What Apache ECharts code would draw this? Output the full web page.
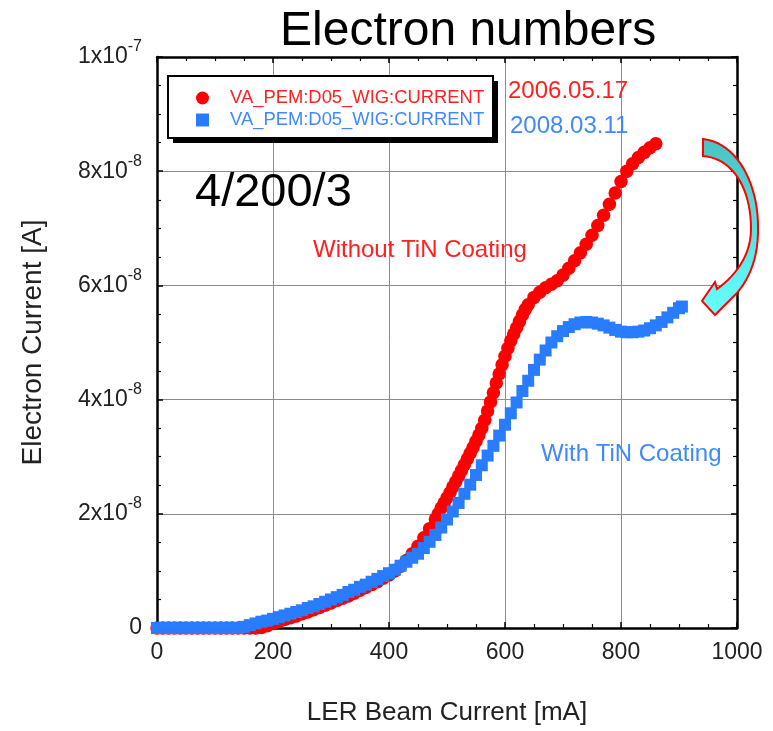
<!DOCTYPE html>
<html>
<head>
<meta charset="utf-8">
<script src="https://cdn.jsdelivr.net/npm/echarts@6/dist/echarts.min.js"></script>
<style>
  html, body { margin: 0; padding: 0; background: #ffffff; }
  #chart { width: 773px; height: 731px; }
</style>
</head>
<body>
<div id="chart"></div>
<script>
// LER beam current [mA] vs. electron current (values in units of 1e-9 A)
const redName = '2006.05.17';
const blueName = '2008.03.11';
const legendLabel = 'VA_PEM:D05_WIG:CURRENT';

// Without TiN coating (2006.05.17)
const redX = [0,10,20,30,40,50,60,70,80,90,100,110,120,130,140,150,160,170,180,190,
  200,210,220,230,240,250,260,270,280,290,300,310,320,330,340,350,360,370,380,390,
  400,410,420,430,440,450,460,470,480,485,490,495,500,505,510,515,520,525,530,535,
  540,545,550,555,560,565,570,575,580,585,590,595,600,605,610,615,620,625,630,635,
  640,650,660,670,680,690,700,710,720,730,740,750,760,770,780,790,800,810,820,830,
  840,850,860];
const redY = [0,0,0,0,0,0,0,0,0,0,0,0,0,0,0,0,0,0,0.1,0.4,
  0.8,1.1,1.5,1.8,2.1,2.5,2.8,3.2,3.6,4.0,4.4,4.8,5.2,5.6,6.1,6.6,7.1,7.6,8.1,8.7,
  9.3,10.0,10.8,11.8,13.0,14.3,15.8,17.4,19.1,20.0,21.0,21.9,22.8,23.7,24.7,25.6,26.6,27.6,28.6,29.6,
  30.6,31.6,32.7,33.8,35.0,36.4,38.0,39.6,41.2,42.9,44.5,46.1,47.6,49.0,50.3,51.5,52.6,53.7,54.8,55.8,
  56.6,57.9,58.8,59.6,60.2,60.8,61.8,63.0,64.3,65.7,67.2,68.8,70.5,72.3,74.2,76.2,78.2,80.0,81.3,82.4,
  83.3,84.1,84.8];

// With TiN coating (2008.03.11)
const blueX = [0,10,20,30,40,50,60,70,80,90,100,110,120,130,140,150,160,170,180,190,
  200,210,220,230,240,250,260,270,280,290,300,310,320,330,340,350,360,370,380,390,
  400,410,420,430,440,450,460,470,480,490,500,510,520,530,540,550,560,570,580,590,
  600,610,620,630,640,650,660,670,680,690,700,710,720,730,740,750,760,770,780,790,
  800,810,820,830,840,850,860,870,880,890,900,905];
const blueY = [0,0,0,0,0,0,0,0,0,0,0,0,0,0,0,0.2,0.5,0.8,1.1,1.3,
  1.6,1.9,2.2,2.5,2.8,3.1,3.5,3.8,4.2,4.6,5.0,5.4,5.8,6.3,6.7,7.2,7.6,8.1,8.6,9.1,
  9.6,10.2,10.9,11.6,12.3,13.0,14.0,15.1,16.3,17.6,19.0,20.4,21.9,23.5,25.1,26.8,28.5,30.2,31.9,33.7,
  35.6,37.6,39.5,41.5,43.3,45.2,47.0,48.6,50.0,51.1,52.0,52.7,53.2,53.5,53.6,53.5,53.3,53.0,52.6,52.2,
  51.9,51.8,51.8,51.9,52.1,52.5,53.0,53.6,54.4,55.2,56.0,56.3];

// tick labels
const xTickValues = [0, 200, 400, 600, 800, 1000];
const xTickText = ['0', '200', '400', '600', '800', '1000'];
const yTickValues = [0, 20, 40, 60, 80, 100];
const yTickBase = ['0', '2x10', '4x10', '6x10', '8x10', '1x10'];
const yTickExp = ['', '-8', '-8', '-8', '-8', '-7'];

const RED = '#ff0000';
const BLUE = '#2a7cff';
const INK = '#222222';
const FONT = '"Liberation Sans", Arial, sans-serif';

function pairs(xs, ys) { return xs.map((x, i) => [x, ys[i]]); }

function xLabel(v) {
  const i = xTickValues.indexOf(Math.round(v));
  return i < 0 ? '' : xTickText[i];
}
function yLabel(v) {
  const i = yTickValues.indexOf(Math.round(v));
  if (i < 0) return '';
  return yTickExp[i] ? '{b|' + yTickBase[i] + '}{s|' + yTickExp[i] + '}' : '{b|' + yTickBase[i] + '}';
}

// curved block arrow, sampled from cubic segments
function cubic(p0, p1, p2, p3, n) {
  const out = [];
  for (let i = 0; i <= n; i++) {
    const t = i / n, u = 1 - t;
    out.push([
      u*u*u*p0[0] + 3*u*u*t*p1[0] + 3*u*t*t*p2[0] + t*t*t*p3[0],
      u*u*u*p0[1] + 3*u*u*t*p1[1] + 3*u*t*t*p2[1] + t*t*t*p3[1]
    ]);
  }
  return out;
}
const arrowPts = [].concat(
  cubic([703,139], [738,143], [758,185], [758,226], 20),
  cubic([758,226], [759,262], [746,285], [732,298], 14),
  [[715,315], [702,301], [715,282], [717,289]],
  cubic([717,289], [735,276], [751,256], [751,229], 14),
  cubic([751,229], [751,186], [731,158], [703,156], 20)
);

const axisCommon = {
  type: 'value',
  axisLine: { show: true, onZero: false, lineStyle: { color: '#000', width: 2.5 } },
  axisTick: { show: true, inside: true, length: 6, lineStyle: { color: '#000', width: 1.5 } },
  minorTick: { show: true, splitNumber: 4, length: 4, lineStyle: { color: '#000', width: 1.2 } },
};

const chart = echarts.init(document.getElementById('chart'), null, { renderer: 'canvas' });
chart.setOption({
  animation: false,
  backgroundColor: '#ffffff',
  textStyle: { fontFamily: FONT },
  title: {
    text: 'Electron numbers',
    left: 280, top: 8, padding: 0,
    textStyle: { fontFamily: FONT, fontSize: 48, fontWeight: 'normal', color: '#000' }
  },
  grid: { left: 157, right: 36, top: 57, bottom: 100 },
  legend: {
    orient: 'vertical',
    left: 168, top: 76,
    padding: [13, 9, 9, 28],
    itemWidth: 13, itemHeight: 13,
    itemGap: 4,
    z: 6,
    selectedMode: false,
    backgroundColor: 'transparent',
    borderWidth: 0,
    formatter: () => legendLabel,
    textStyle: { fontFamily: FONT, fontSize: 18.4, lineHeight: 18, padding: [0, 0, 0, 16] },
    data: [
      { name: redName, icon: 'circle', textStyle: { color: '#ff2020' } },
      { name: blueName, icon: 'rect', textStyle: { color: '#3f88ff' } }
    ]
  },
  xAxis: [
    Object.assign({}, axisCommon, {
      position: 'bottom', min: 0, max: 1000, interval: 200,
      name: 'LER Beam Current [mA]', nameLocation: 'middle', nameGap: 72,
      nameTextStyle: { fontFamily: FONT, fontSize: 26, color: INK },
      axisLabel: { margin: 13, fontFamily: FONT, fontSize: 23, color: INK, formatter: xLabel },
      splitLine: { show: true, lineStyle: { color: '#8c8c8c', width: 1 } }
    }),
    Object.assign({}, axisCommon, {
      position: 'top', min: 0, max: 1000, interval: 200,
      axisLabel: { show: false }, splitLine: { show: false }
    })
  ],
  yAxis: [
    Object.assign({}, axisCommon, {
      position: 'left', min: 0, max: 100, interval: 20,
      name: 'Electron Current [A]', nameLocation: 'middle', nameGap: 110,
      nameTextStyle: { fontFamily: FONT, fontSize: 28, color: INK },
      axisLabel: {
        margin: 15, color: INK, fontFamily: FONT,
        formatter: yLabel,
        rich: {
          b: { fontFamily: FONT, fontSize: 23, lineHeight: 23, color: INK },
          s: { fontFamily: FONT, fontSize: 16, lineHeight: 16, padding: [0, 0, 20, 0], color: INK }
        }
      },
      splitLine: { show: true, lineStyle: { color: '#8c8c8c', width: 1 } }
    }),
    Object.assign({}, axisCommon, {
      position: 'right', min: 0, max: 100, interval: 20,
      axisLabel: { show: false }, splitLine: { show: false }
    })
  ],
  series: [
    {
      name: redName, type: 'scatter', xAxisIndex: 0, yAxisIndex: 0,
      symbol: 'circle', symbolSize: 13.5, clip: false,
      itemStyle: { color: RED, opacity: 1 },
      data: pairs(redX, redY), z: 2
    },
    {
      name: blueName, type: 'scatter', xAxisIndex: 0, yAxisIndex: 0,
      symbol: 'rect', symbolSize: 12, clip: false,
      itemStyle: { color: BLUE, opacity: 1 },
      data: pairs(blueX, blueY), z: 3
    }
  ],
  graphic: [
    // legend frame with a hard drop shadow
    { type: 'rect', z: 4, shape: { x: 173, y: 81, width: 325, height: 62 }, style: { fill: '#000' } },
    { type: 'rect', z: 5, shape: { x: 168, y: 76, width: 325, height: 62 }, style: { fill: '#fff', stroke: '#000', lineWidth: 2 } },
    { type: 'text', z: 10, style: { x: 195, y: 193, text: '4/200/3', font: '47px ' + FONT, fill: '#000', textVerticalAlign: 'middle', verticalAlign: 'middle' } },
    { type: 'text', z: 10, style: { x: 508, y: 91, text: redName, font: '24px ' + FONT, fill: '#ff2020', textVerticalAlign: 'middle', verticalAlign: 'middle' } },
    { type: 'text', z: 10, style: { x: 510, y: 126, text: blueName, font: '24px ' + FONT, fill: '#3f88ff', textVerticalAlign: 'middle', verticalAlign: 'middle' } },
    { type: 'text', z: 10, style: { x: 313, y: 250, text: 'Without TiN Coating', font: '24px ' + FONT, fill: '#ff2020', textVerticalAlign: 'middle', verticalAlign: 'middle' } },
    { type: 'text', z: 10, style: { x: 541, y: 454, text: 'With TiN Coating', font: '24px ' + FONT, fill: '#3f88ff', textVerticalAlign: 'middle', verticalAlign: 'middle' } },
    {
      type: 'polygon', z: 10,
      shape: { points: arrowPts },
      style: {
        fill: { type: 'linear', x: 0, y: 0, x2: 0, y2: 1, colorStops: [
          { offset: 0, color: '#49c2c2' }, { offset: 1, color: '#66ffff' } ] },
        stroke: '#ff0000', lineWidth: 2
      }
    }
  ]
});
</script>
</body>
</html>
